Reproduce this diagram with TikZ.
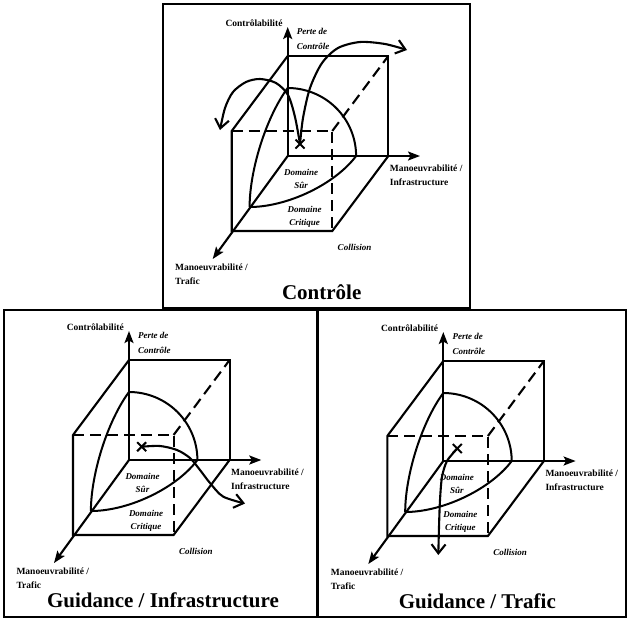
\documentclass[tikz,border=0pt]{standalone}
\usepackage{fontspec}
\setmainfont{Liberation Serif}
\usetikzlibrary{arrows.meta,shapes.misc}
\tikzset{
 edge/.style={line width=2.1pt, line join=miter},
 hid/.style={line width=2.1pt, dash pattern=on 11pt off 6pt},
 axis/.style={line width=2.1pt, -{Stealth[length=12pt,width=9pt,inset=2.5pt]}},
 traj/.style={line width=2.1pt, -{Straight Barb[length=9pt,width=14pt]}},
 arcthree/.style={line width=2pt},
 axlbl/.style={font=\fontsize{9.5}{14}\selectfont\bfseries, inner sep=0pt, align=left},
 itlbl/.style={font=\fontsize{9}{13}\selectfont\bfseries\itshape, inner sep=0pt, align=center},
 ttl/.style={font=\fontsize{21}{24}\selectfont\bfseries, inner sep=0pt},
 panelframe/.style={line width=2.4pt},
 xmark/.style={cross out, draw, line width=2pt, minimum size=7pt, inner sep=0pt},
}
\newcommand\cubepanel[5]{%
\begin{scope}[shift={(#2,#3)}]
 \coordinate (#1B0) at (0,0);
 \coordinate (#1B1) at (100.6,0);
 \coordinate (#1B2) at (100.6,-100);
 \coordinate (#1B3) at (0,-100);
 \coordinate (#1F0) at (-56,75);
 \coordinate (#1F1) at (44.6,75);
 \coordinate (#1F2) at (44.6,-25);
 \coordinate (#1F3) at (-56,-25);
 \coordinate (#1Ty) at (0,-129);
 \coordinate (#1Tx) at (132.3,0);
 \coordinate (#1Tz) at (-75,103);
 \draw[edge] (#1B3) -- (#1B2) -- (#1B1);
 \draw[edge] (#1B3) -- (#1F3) -- (#1F0) -- (#1F1) -- (#1B1);
 \draw[hid] (#1F3) -- (#1F2) -- (#1F1);
 \draw[hid] (#1F2) -- (#1B2);
 \draw[axis] (#1B0) -- (#1Ty);
 \draw[axis] (#1B0) -- (#1Tx);
 \draw[axis] (#1B0) -- (#1Tz);
 \draw[arcthree] plot[domain=0:90,samples=45,smooth] ({68.4*cos(\x)},{-68*sin(\x)});
 \draw[arcthree] plot[domain=0:90,samples=45,smooth] ({68.4*cos(\x)-38.1*sin(\x)},{51*sin(\x)});
 \draw[arcthree] plot[domain=0:90,samples=45,smooth] ({-38.1*sin(\x)},{-68*cos(\x)+51*sin(\x)});
 \node[axlbl, anchor=east] (#1cl) at (-5,-133) {Contrôlabilité};
 \node[itlbl, anchor=west, align=left, font=\fontsize{9}{15}\selectfont\bfseries\itshape] (#1pc) at (9,-117) {Perte de\\Contrôle};
 \node[axlbl, anchor=west] (#1mi) at (102,19) {Manoeuvrabilité /\\Infrastructure};
 \node[itlbl] (#1ds) at (13.5,23) {Domaine\\Sûr};
 \node[itlbl] (#1dc) at (17,60.5) {Domaine\\Critique};
 \node[itlbl] (#1col) at (66.8,91) {Collision};
 \node[axlbl, anchor=west] (#1mt) at (-112.7,118.5) {Manoeuvrabilité /\\Trafic};
 \node[ttl] (#1ttl) at (34,#5) {#4};
\end{scope}}
\begin{document}
\begin{tikzpicture}[x=1pt,y=-1pt]
\useasboundingbox (0,0) rectangle (628,619);
\draw[panelframe] (163,4) rectangle (470,308);
\draw[panelframe] (4,310) rectangle (317.5,617);
\draw[panelframe] (317.5,310) rectangle (626,617);
\cubepanel{t}{287.7}{156}{Contrôle}{136}
\cubepanel{l}{129}{460}{Guidance / Infrastructure}{140}
\cubepanel{r}{443.3}{461}{Guidance / Trafic}{140}
% top panel trajectories
\node[xmark] (tX) at (300,144) {};
\draw[traj] plot[smooth] coordinates {(tX.center) (303,118) (310,88) (322,63) (338,48) (360,42) (385,44) (407,50)};
\draw[traj] plot[smooth] coordinates {(tX.center) (295,117) (288,95) (276,83) (260,79) (246,82) (233,92) (225,108) (220,130)};
% bottom-left trajectory
\node[xmark] (lX) at (141.7,446.7) {};
\draw[traj] plot[smooth] coordinates {(lX.center) (160,446) (177,450) (190,458) (200,470) (210,483) (223,496.5) (245,503.5)};
% bottom-right trajectory
\node[xmark] (rX) at (457.3,448.5) {};
\draw[traj] plot[smooth] coordinates {(rX.center) (447,461) (442,477) (440,500) (439,527) (438.3,555)};
\end{tikzpicture}
\end{document}
